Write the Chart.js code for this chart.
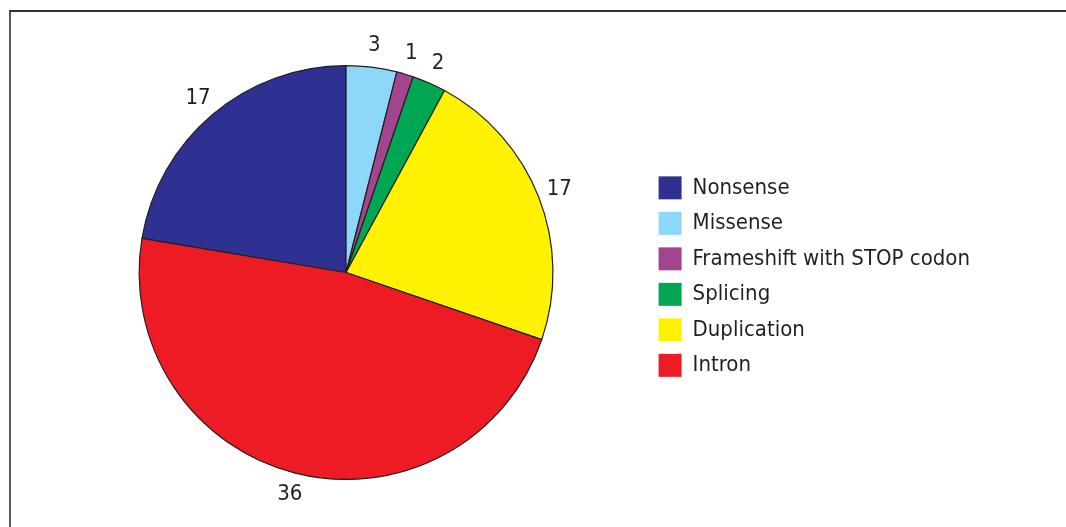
<!DOCTYPE html>
<html>
<head>
<meta charset="utf-8">
<script src="https://cdn.jsdelivr.net/npm/chart.js@4/dist/chart.umd.min.js"></script>
<style>
  html, body { margin: 0; padding: 0; background: #fff; }
  #wrap { position: relative; width: 1066px; height: 527px; }
  #frame {
    position: absolute; left: 9px; top: 10px; right: 0; bottom: 0;
    border-top: 2px solid #333; border-left: 2px solid #555;
  }
  canvas { position: absolute; left: 0; top: 0; }
</style>
</head>
<body>
<div id="wrap">
  <div id="frame"></div>
  <canvas id="pie" width="1066" height="527"></canvas>
</div>
<script>
// Mutation types, in legend order (Nonsense sits just left of 12 o'clock)
const categories = ['Nonsense', 'Missense', 'Frameshift with STOP codon', 'Splicing', 'Duplication', 'Intron'];
const counts = [17, 3, 1, 2, 17, 36];
const colors = ['#2E3192', '#8DD8F8', '#A3458E', '#00A651', '#FFF200', '#ED1C24'];

const FONT = "'Liberation Sans Narrow', 'DejaVu Sans Condensed', 'Arial Narrow', sans-serif";
const total = counts.reduce((a, b) => a + b, 0);

// numbers outside every slice
const outsideLabels = {
    id: 'outsideLabels',
    afterDatasetsDraw(chart) {
        const ctx = chart.ctx;
        const meta = chart.getDatasetMeta(0);
        ctx.save();
        ctx.font = '22px ' + FONT;
        ctx.fillStyle = '#231f20';
        ctx.textAlign = 'center';
        ctx.textBaseline = 'middle';
        meta.data.forEach((arc, i) => {
            const p = arc.getProps(['x', 'y', 'startAngle', 'endAngle', 'outerRadius'], true);
            const mid = (p.startAngle + p.endAngle) / 2;
            const r = p.outerRadius + 22;
            ctx.fillText(String(counts[i]), p.x + Math.cos(mid) * r, p.y + Math.sin(mid) * r);
        });
        ctx.restore();
    }
};

new Chart(document.getElementById('pie'), {
    type: 'pie',
    data: {
        labels: categories,
        datasets: [{
            data: counts,
            backgroundColor: colors,
            borderColor: '#231f20',
            borderWidth: 1.2
        }]
    },
    options: {
        responsive: false,
        animation: false,
        rotation: -counts[0] / total * 360,
        layout: { padding: { top: 65, bottom: 47, left: 46, right: 86 } },
        plugins: {
            tooltip: { enabled: false },
            legend: {
                position: 'right',
                align: 'center',
                // empty title just nudges the items a few px down
                title: { display: true, text: ' ', font: { size: 1 }, padding: { top: 7, bottom: 0 } },
                labels: {
                    boxWidth: 23,
                    boxHeight: 23,
                    padding: 12.5,
                    color: '#231f20',
                    font: { family: FONT, size: 22 },
                    // plain squares, no outline
                    generateLabels(chart) {
                        const items = Chart.overrides.pie.plugins.legend.labels.generateLabels(chart);
                        items.forEach(it => { it.lineWidth = 0; it.strokeStyle = it.fillStyle; });
                        return items;
                    }
                }
            }
        }
    },
    plugins: [outsideLabels]
});
</script>
</body>
</html>
